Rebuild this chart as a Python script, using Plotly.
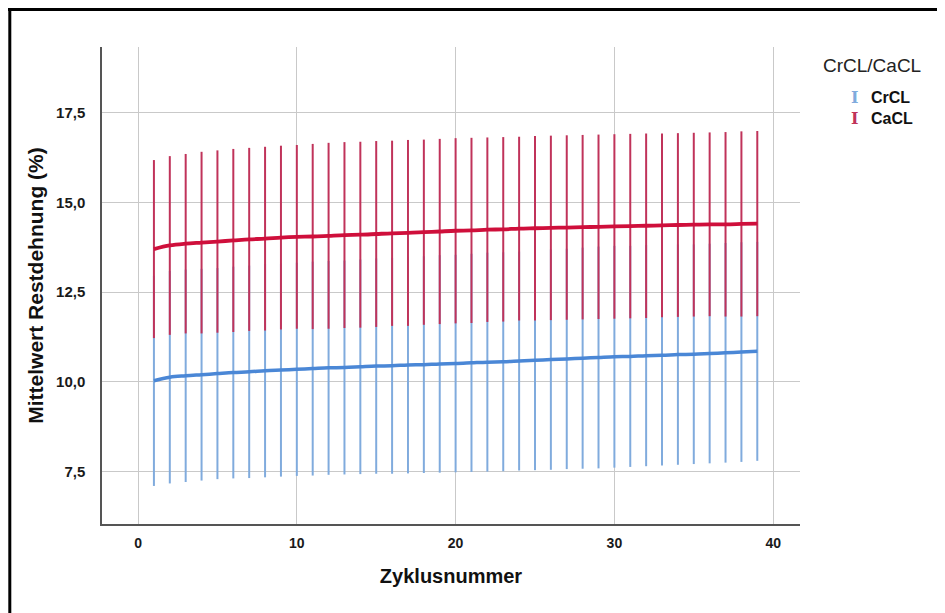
import plotly.graph_objects as go

cycles = list(range(1, 40))

cacl_mean = [13.70, 13.80, 13.85, 13.88, 13.91, 13.94, 13.97, 13.99, 14.02, 14.04,
             14.05, 14.07, 14.09, 14.10, 14.12, 14.14, 14.15, 14.17, 14.19, 14.21,
             14.22, 14.24, 14.25, 14.27, 14.28, 14.29, 14.30, 14.31, 14.32, 14.33,
             14.34, 14.35, 14.36, 14.37, 14.38, 14.39, 14.39, 14.40, 14.41]
cacl_upper = [16.18, 16.29, 16.35, 16.41, 16.45, 16.49, 16.52, 16.55, 16.58, 16.60,
              16.63, 16.66, 16.68, 16.69, 16.71, 16.72, 16.74, 16.75, 16.77, 16.79,
              16.80, 16.81, 16.82, 16.83, 16.85, 16.86, 16.87, 16.88, 16.89, 16.90,
              16.91, 16.92, 16.92, 16.93, 16.94, 16.95, 16.96, 16.98, 16.99]

crcl_mean = [10.03, 10.13, 10.17, 10.20, 10.23, 10.26, 10.28, 10.31, 10.33, 10.35,
             10.37, 10.39, 10.40, 10.42, 10.44, 10.45, 10.47, 10.48, 10.50, 10.51,
             10.53, 10.55, 10.56, 10.58, 10.60, 10.62, 10.64, 10.66, 10.68, 10.70,
             10.71, 10.73, 10.74, 10.76, 10.77, 10.79, 10.81, 10.83, 10.85]
crcl_lower = [7.10, 7.17, 7.21, 7.25, 7.29, 7.31, 7.32, 7.34, 7.36, 7.38,
              7.39, 7.41, 7.42, 7.43, 7.44, 7.44, 7.45, 7.46, 7.47, 7.48,
              7.49, 7.50, 7.51, 7.53, 7.54, 7.55, 7.57, 7.58, 7.59, 7.61,
              7.63, 7.65, 7.67, 7.69, 7.71, 7.73, 7.75, 7.77, 7.80]

x_ticks = [0, 10, 20, 30, 40]
y_ticks = [7.5, 10.0, 12.5, 15.0, 17.5]
y_tick_labels = ["7,5", "10,0", "12,5", "15,0", "17,5"]

BLUE_BAR = "#80abdd"
BLUE_LINE = "#4a87d6"
RED_BAR = "#c0335a"
RED_LINE = "#cf0f3b"

cacl_err = [u - m for u, m in zip(cacl_upper, cacl_mean)]
crcl_err = [m - l for m, l in zip(crcl_mean, crcl_lower)]

fig = go.Figure()

fig.add_trace(go.Scatter(
    x=cycles, y=crcl_mean, mode="markers",
    marker=dict(size=1, color="rgba(0,0,0,0)"),
    error_y=dict(type="data", array=crcl_err, symmetric=True,
                 color=BLUE_BAR, thickness=2, width=0),
    showlegend=False, hoverinfo="skip"))
fig.add_trace(go.Scatter(
    x=cycles, y=cacl_mean, mode="markers",
    marker=dict(size=1, color="rgba(0,0,0,0)"),
    error_y=dict(type="data", array=cacl_err, symmetric=True,
                 color=RED_BAR, thickness=2, width=0),
    showlegend=False, hoverinfo="skip"))
fig.add_trace(go.Scatter(
    x=cycles, y=crcl_mean, mode="lines",
    line=dict(color=BLUE_LINE, width=3.5, shape="spline"),
    name="CrCL", showlegend=False))
fig.add_trace(go.Scatter(
    x=cycles, y=cacl_mean, mode="lines",
    line=dict(color=RED_LINE, width=3.8, shape="spline"),
    name="CaCL", showlegend=False))

fig.update_xaxes(
    range=[-2.27, 41.69], tickvals=x_ticks, ticktext=["<b>%d</b>" % v for v in x_ticks],
    showgrid=True, gridcolor="#c9c9c9", gridwidth=1,
    showline=True, linecolor="#555555", linewidth=1.5,
    zeroline=False, ticks="", ticklabelstandoff=5,
    tickfont=dict(family="Liberation Sans, Arial, sans-serif", size=14, color="#1a1a1a"),
    title=dict(text="<b>Zyklusnummer</b>", standoff=19,
               font=dict(family="Liberation Sans, Arial, sans-serif",
                         size=20, color="#111111")))
fig.update_yaxes(
    range=[6.04, 19.33], tickvals=y_ticks, ticktext=["<b>%s</b>" % t for t in y_tick_labels],
    showgrid=True, gridcolor="#c9c9c9", gridwidth=1,
    showline=True, linecolor="#555555", linewidth=1.5,
    zeroline=False, ticks="", ticklabelstandoff=12,
    tickfont=dict(family="Liberation Sans, Arial, sans-serif", size=15, color="#1a1a1a"),
    title=dict(text="<b>Mittelwert Restdehnung (%)</b>", standoff=7,
               font=dict(family="Liberation Sans, Arial, sans-serif", size=21, color="#111111")))

# page offset (browser body margin) compensation: reference pixel -> figure pixel
OFF = 8
L, R, T, B = 102 - OFF, 800 - OFF, 47 - OFF, 524 - OFF
W, H = 945 - OFF, 613 - OFF


def px_x(p):
    return (p - OFF - L) / (R - L)


def px_y(p):
    return (B - (p - OFF)) / (B - T)


ann = []
ann.append(dict(text="CrCL/CaCL", x=872, y=65, xanchor="center",
                font=dict(family="Liberation Sans, Arial, sans-serif", size=19, color="#222222")))
for label, col, ypix in [("CrCL", BLUE_BAR, 97), ("CaCL", RED_BAR, 118)]:
    ann.append(dict(text="<b>I</b>", x=854, y=ypix, xanchor="center",
                    font=dict(family="DejaVu Serif, serif", size=16, color=col)))
    ann.append(dict(text="<b>" + label + "</b>", x=869, y=ypix, xanchor="left",
                    font=dict(family="Liberation Sans, Arial, sans-serif", size=16, color="#111111")))
for a in ann:
    a["x"] = px_x(a["x"])
    a["y"] = px_y(a["y"])
    a["xref"] = "paper"
    a["yref"] = "paper"
    a["showarrow"] = False
    a["yanchor"] = "middle"

shapes = [
    dict(type="line", xref="paper", yref="paper", x0=px_x(9.8), x1=px_x(9.8),
         y0=px_y(8), y1=px_y(613), line=dict(color="black", width=3)),
    dict(type="line", xref="paper", yref="paper", x0=px_x(8), x1=px_x(945),
         y0=px_y(9.5), y1=px_y(9.5), line=dict(color="black", width=3)),
]

fig.update_layout(
    width=W, height=H,
    margin=dict(l=L, r=W - R, t=T, b=H - B, autoexpand=False),
    paper_bgcolor="white", plot_bgcolor="white",
    annotations=ann, shapes=shapes,
    showlegend=False,
)

fig.write_html("out.html")
